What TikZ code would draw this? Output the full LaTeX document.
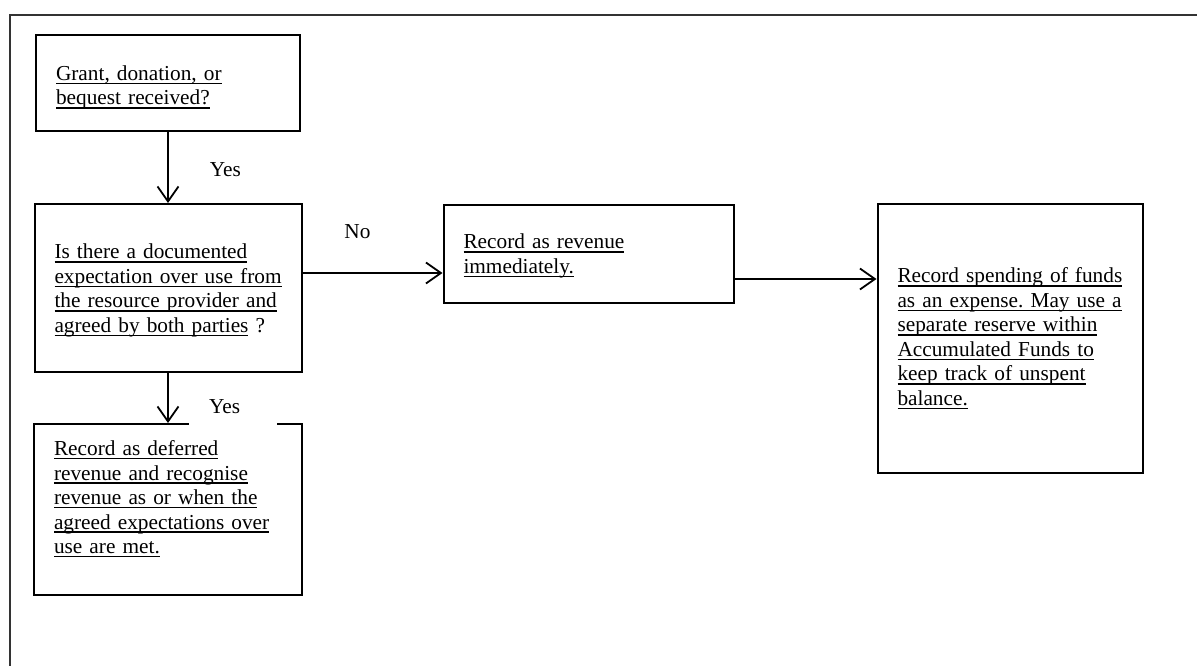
\documentclass[tikz,border=0pt]{standalone}
\usepackage{fontspec}
\setmainfont{Liberation Serif}
\frenchspacing
\newcommand{\uln}[1]{\leavevmode\setbox0\hbox{#1}\rlap{\rule[-3.6pt]{\wd0}{1.2pt}}\box0\relax}
\usetikzlibrary{arrows.meta, positioning}
\tikzstyle{stepbox} = [rectangle, draw=black, line width=2pt, align=left, inner xsep=20pt, inner ysep=0pt, font=\fontsize{21.3pt}{24.5pt}\selectfont]
\tikzstyle{arrow} = [line width=1.8pt, ->, >={Straight Barb[length=15pt,width=21pt]}, draw=black]
\tikzstyle{answer} = [inner sep=0pt, anchor=base west, font=\fontsize{21.3pt}{24.5pt}\selectfont]

\begin{document}
\begin{tikzpicture}[x=1pt, y=-1pt]
    \useasboundingbox (0,0) rectangle (1197,666);
    \draw [line width=2pt, black!80] (1197,15.5) -| (10,666);

    \node (grant) [stepbox, text width=224pt, minimum height=96pt] at (168,83) {\rule{0pt}{24pt}\uln{Grant, donation, or}\\\uln{bequest received?}};
    \node (doc) [stepbox, text width=227pt, minimum height=168pt, below=71pt of grant] {\rule{0pt}{20pt}\uln{Is there a documented}\\\uln{expectation over use from}\\\uln{the resource provider and}\\\uln{agreed by both parties} ?};
    \node (defer) [stepbox, text width=228pt, minimum height=171pt, below=50pt of doc] {\uln{Record as deferred}\\\uln{revenue and recognise}\\\uln{revenue as or when the}\\\uln{agreed expectations over}\\\uln{use are met.}\rule[-25pt]{0pt}{1pt}};
    \node (rev) [stepbox, text width=250pt, minimum height=98pt, right=140pt of doc, yshift=34pt] {\rule{0pt}{19pt}\uln{Record as revenue}\\\uln{immediately.}};
    \node (spend) [stepbox, text width=225pt, minimum height=269pt, right=142pt of rev, yshift=-84.5pt] {\uln{Record spending of funds}\\\uln{as an expense. May use a}\\\uln{separate reserve within}\\\uln{Accumulated Funds to}\\\uln{keep track of unspent}\\\uln{balance.}};

    \draw [arrow] (grant) -- node[answer, pos=0, xshift=41pt, yshift=-44pt] {Yes} (doc);
    \draw [arrow] ([yshift=15pt]doc.east) -- node[answer, pos=0, xshift=41pt, yshift=35pt] {No} ([yshift=15pt]doc.east -| rev.west);
    \draw [arrow] ([yshift=-25pt]rev.east) -- ([yshift=-25pt]rev.east -| spend.west);
    \draw [arrow] (doc) -- (defer);
    \node (yes2) [inner sep=0pt, fill=white, anchor=south west, text height=18pt, text depth=12pt, font=\fontsize{21.3pt}{24.5pt}\selectfont] at ([xshift=21pt, yshift=-2.5pt]defer.north) {\hspace*{20pt}Yes\hspace*{37pt}};
\end{tikzpicture}
\end{document}
